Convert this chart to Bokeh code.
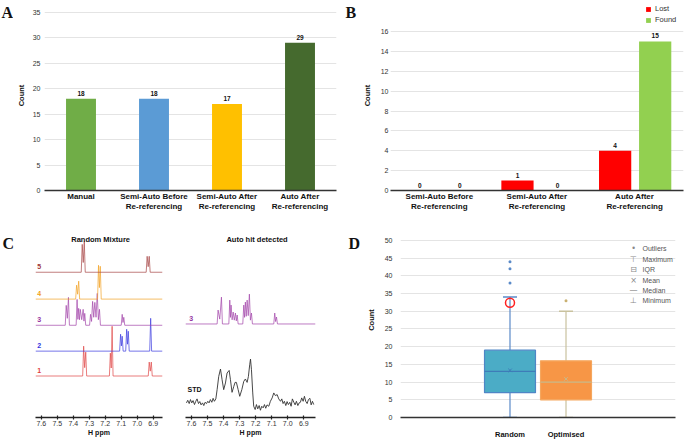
from bokeh.plotting import figure
from bokeh.layouts import row, column
from bokeh.models import (ColumnDataSource, Range1d, FactorRange, Label, Legend, LegendItem,
                          NumeralTickFormatter)
from bokeh.transform import dodge
from bokeh.core.properties import value
from bokeh.embed import file_html
from bokeh.resources import INLINE

SANS = "Liberation Sans"
SERIF = "Liberation Serif"

# ---------------- data ----------------
# Panel A
a_methods = ["Manual", "Semi-Auto Before\nRe-referencing", "Semi-Auto After\nRe-referencing",
             "Auto After\nRe-referencing"]
a_counts = [18, 18, 17, 29]
a_colors = ["#70AD47", "#5B9BD5", "#FFC000", "#456A2E"]
a_ticks = [0, 5, 10, 15, 20, 25, 30, 35]

# Panel B
b_methods = a_methods[1:]
b_lost = [0, 1, 4]
b_found = [0, 0, 15]
b_ticks = [0, 2, 4, 6, 8, 10, 12, 14, 16]

# Panel C  (peak tables: ppm, intensity)
ppm_ticks = [7.6, 7.5, 7.4, 7.3, 7.2, 7.1, 7.0, 6.9]
mix_names = ["1", "2", "3", "4", "5"]
mix_peaks = [
    [(7.335, 30), (7.322, 24), (7.168, 23), (7.157, 50), (6.925, 14), (6.912, 14)],
    [(7.104, 17), (7.094, 15), (7.066, 22), (7.056, 20), (6.916, 33)],
    [(7.444, 20), (7.430, 28), (7.376, 26), (7.366, 17), (7.356, 16), (7.338, 16), (7.328, 12),
     (7.292, 11), (7.279, 24), (7.265, 23), (7.250, 32), (7.236, 16), (7.094, 11), (7.084, 8)],
    [(7.379, 14), (7.366, 18), (7.242, 34), (7.231, 33)],
    [(7.344, 28), (7.331, 31), (6.938, 16), (6.925, 16)],
]
hit_name = "3"
hit_peaks = [(7.434, 14), (7.413, 27), (7.361, 24), (7.353, 19), (7.340, 12), (7.326, 11), (7.315, 9),
             (7.274, 19), (7.264, 22), (7.253, 24), (7.239, 30), (7.226, 11), (7.081, 11), (7.070, 7)]
std_ppm = [7.631, 7.623, 7.614, 7.606, 7.598, 7.590, 7.581, 7.573, 7.565, 7.556, 7.548, 7.540, 7.531,
           7.523, 7.515, 7.506, 7.498, 7.490, 7.482, 7.473, 7.465, 7.457, 7.448, 7.440, 7.430, 7.419,
           7.409, 7.399, 7.388, 7.378, 7.365, 7.357, 7.347, 7.336, 7.328, 7.320, 7.309, 7.299, 7.286,
           7.274, 7.264, 7.253, 7.245, 7.237, 7.232, 7.226, 7.218, 7.212, 7.203, 7.195, 7.187, 7.178,
           7.170, 7.162, 7.153, 7.145, 7.137, 7.129, 7.118, 7.108, 7.097, 7.087, 7.077, 7.066, 7.056,
           7.045, 7.037, 7.029, 7.021, 7.012, 7.004, 6.996, 6.987, 6.979, 6.971, 6.962, 6.954, 6.946,
           6.937, 6.929, 6.921, 6.913, 6.904, 6.896, 6.888, 6.879, 6.871, 6.862, 6.854, 6.846, 6.838]
std_int = [14.7, 17.3, 14.0, 18.0, 14.7, 17.0, 13.0, 16.3, 18.7, 14.0, 16.0, 12.7, 14.7,
           12.0, 15.3, 14.0, 16.3, 14.7, 18.0, 15.3, 19.3, 16.3, 18.7, 28.0, 41.3, 48.7,
           38.0, 28.0, 34.7, 44.7, 47.3, 38.0, 25.3, 31.3, 35.3, 35.3, 28.0, 21.3, 28.0,
           36.3, 38.7, 35.3, 41.3, 53.0, 58.7, 48.0, 24.7, 11.3, 8.0, 13.0, 8.7, 12.0,
           7.3, 11.3, 9.7, 13.0, 9.3, 12.7, 11.3, 16.3, 19.7, 24.7, 22.0, 23.0, 18.7,
           16.3, 18.7, 14.0, 16.3, 12.0, 16.0, 13.0, 15.3, 11.3, 18.7, 15.3, 12.7, 16.3,
           12.0, 14.7, 15.3, 19.7, 16.3, 21.3, 16.3, 14.0, 18.0, 19.3, 12.7, 16.3, 13.0]

# Panel D
d_groups = ["Random", "Optimised"]
d_min = [0, 0]
d_q1 = [7, 5]
d_median = [13, 10]
d_mean = [13.3, 10.9]
d_q3 = [19, 16]
d_max = [34, 30]
d_out_group = ["Random", "Random", "Random", "Optimised"]
d_out_value = [44, 42, 38, 33]
d_flag_group = ["Random"]
d_flag_value = [32.4]
d_ticks = [0, 5, 10, 15, 20, 25, 30, 35, 40, 45, 50]
d_legend_symbols = ["\u2022", "\u22a4", "\u229f", "\u00d7", "\u2014", "\u22a5"]
d_legend_texts = ["Outliers", "Maximum", "IQR", "Mean", "Median", "Minimum"]

# ---------------- styling ----------------
mix_colors = ["#E04A4A", "#4040E0", "#A448AC", "#F2A42A", "#A84A4A"]
mix_label_colors = ["#E03C3C", "#3434E0", "#9434A0", "#F0A020", "#A03838"]
stack_base = [41.7, 66.7, 92.7, 119.0, 146.0]
GRID = "#E4E4E4"
TOP_H, BOT_H = 222, 219
TOP_MB, BOT_MB = 32, 23


def base_fig(w, h, xr, yr, ml, mr, mt, mb, **kw):
    p = figure(width=w, height=h, x_range=xr, y_range=yr, output_backend="svg",
               toolbar_location=None, min_border_left=ml, min_border_right=mr,
               min_border_top=mt, min_border_bottom=mb, **kw)
    p.outline_line_color = None
    p.background_fill_color = "white"
    p.border_fill_color = "white"
    return p


def letter_fig(w, h, mb, txt, x, y):
    f = base_fig(w, h, Range1d(0, w), Range1d(0, h - mb), 0, 0, 0, mb,
                 x_axis_location=None, y_axis_location=None)
    f.grid.visible = False
    f.text(x=[x], y=[y], text=[txt], text_font=value(SERIF), text_font_size="16px",
           text_font_style="bold", text_color="#111111", text_align="left",
           text_baseline="alphabetic")
    return f


def style_bar_axes(p, ticks, ylabel_standoff, tick_standoff):
    p.xgrid.grid_line_color = None
    p.ygrid.grid_line_color = GRID
    p.yaxis.ticker = ticks
    p.yaxis.axis_line_color = None
    p.yaxis.major_tick_line_color = None
    p.yaxis.minor_tick_line_color = None
    p.yaxis.major_tick_out = 0
    p.yaxis.major_tick_in = 0
    p.yaxis.major_label_text_font = SANS
    p.yaxis.major_label_text_font_size = "7px"
    p.yaxis.major_label_text_color = "#333333"
    p.yaxis.major_label_standoff = tick_standoff
    p.yaxis.axis_label = "Count"
    p.yaxis.axis_label_text_font = SANS
    p.yaxis.axis_label_text_font_size = "7.5px"
    p.yaxis.axis_label_text_font_style = "bold"
    p.yaxis.axis_label_text_color = "#111111"
    p.yaxis.axis_label_standoff = ylabel_standoff
    p.xaxis.axis_line_color = "#333333"
    p.xaxis.axis_line_width = 1.5
    p.xaxis.major_tick_line_color = None
    p.xaxis.minor_tick_line_color = None
    p.xaxis.major_tick_out = 0
    p.xaxis.major_tick_in = 0
    p.xaxis.major_label_text_font = SANS
    p.xaxis.major_label_text_font_style = "bold"
    p.xaxis.major_label_text_font_size = "8px"
    p.xaxis.major_label_text_color = "#111111"
    p.xaxis.major_label_standoff = 1


# ---------------- Panel A ----------------
srcA = ColumnDataSource(dict(m=a_methods, c=a_counts, col=a_colors, lbl=[str(v) for v in a_counts]))
pA = base_fig(325, TOP_H, FactorRange(*a_methods), Range1d(0, 37.3), 31, 2, 0, TOP_MB)
pA.vbar(x="m", top="c", width=0.41, fill_color="col", line_color=None, source=srcA)
pA.text(x="m", y="c", text="lbl", source=srcA, text_align="center", text_baseline="bottom",
        y_offset=-3, text_font=value(SANS), text_font_size="6.5px", text_font_style="bold",
        text_color="#111111")
style_bar_axes(pA, a_ticks, 4, 4)

# ---------------- Panel B ----------------
srcB = ColumnDataSource(dict(m=b_methods, lost=b_lost, found=b_found,
                             ll=[str(v) for v in b_lost], fl=[str(v) for v in b_found]))
pB = base_fig(327, TOP_H, FactorRange(*b_methods), Range1d(0, 19.12), 32, 2, 0, TOP_MB)
rl = pB.vbar(x=dodge("m", -0.2, range=pB.x_range), top="lost", width=0.33, fill_color="#FF0000",
             line_color=None, source=srcB)
rf = pB.vbar(x=dodge("m", 0.21, range=pB.x_range), top="found", width=0.33, fill_color="#92D050",
             line_color=None, source=srcB)
for ycol, tcol, off in [("lost", "ll", -0.2), ("found", "fl", 0.21)]:
    pB.text(x=dodge("m", off, range=pB.x_range), y=ycol, text=tcol, source=srcB,
            text_align="center", text_baseline="bottom", y_offset=-3, text_font=value(SANS),
            text_font_size="6.5px", text_font_style="bold", text_color="#111111")
style_bar_axes(pB, b_ticks, 6, 2)
leg = Legend(items=[LegendItem(label="Lost", renderers=[rl]), LegendItem(label="Found", renderers=[rf])],
             location=(255, 166), orientation="vertical", glyph_width=6, glyph_height=6,
             label_height=9, label_width=20, spacing=2, padding=0, margin=0, label_standoff=4,
             label_text_font=SANS, label_text_font_size="7.5px", label_text_color="#333333",
             border_line_color=None, background_fill_alpha=0)
pB.add_layout(leg)

letA = letter_fig(13, TOP_H, TOP_MB, "A", 1, 178)
letB = letter_fig(20, TOP_H, TOP_MB, "B", 7, 178)


# ---------------- Panel C ----------------
def trace_xy(peaks, base, x0, x1, hw=0.006, join=0.022):
    xs, ys = [x0], [base]
    prev = None
    for ppm, h in sorted(peaks, key=lambda t: -t[0]):
        if prev is not None and prev[0] - ppm < join:
            xs.append((prev[0] + ppm) / 2)
            ys.append(base + 0.35 * min(prev[1], h))
        else:
            if prev is not None:
                xs.append(prev[0] - hw)
                ys.append(base)
            xs.append(ppm + hw)
            ys.append(base)
        xs.append(ppm)
        ys.append(base + h)
        prev = (ppm, h)
    xs.append(prev[0] - hw)
    ys.append(base)
    xs.append(x1)
    ys.append(base)
    return xs, ys


def style_ppm_axis(p):
    p.grid.visible = False
    p.xaxis.ticker = ppm_ticks
    p.xaxis.formatter = NumeralTickFormatter(format="0.0")
    p.xaxis.axis_line_color = "#222222"
    p.xaxis.axis_line_width = 1.5
    p.xaxis.major_tick_line_color = "#222222"
    p.xaxis.major_tick_line_width = 1.2
    p.xaxis.major_tick_in = 2
    p.xaxis.major_tick_out = 2
    p.xaxis.minor_tick_line_color = None
    p.xaxis.major_label_text_font = SANS
    p.xaxis.major_label_text_font_size = "7px"
    p.xaxis.major_label_text_color = "#333333"
    p.xaxis.major_label_standoff = 1
    p.xaxis.axis_label = "H ppm"
    p.xaxis.axis_label_text_font = SANS
    p.xaxis.axis_label_text_font_size = "7px"
    p.xaxis.axis_label_text_font_style = "bold"
    p.xaxis.axis_label_text_color = "#111111"
    p.xaxis.axis_label_standoff = 0


def title_label(p, x, txt):
    p.add_layout(Label(x=x, y=179, text=txt, text_font=SANS, text_font_size="7.5px",
                       text_font_style="bold", text_color="#111111", text_align="center",
                       text_baseline="middle"))


xl0, xl1 = 7.636, 6.842
pC1 = base_fig(152, BOT_H, Range1d(xl0, xl1), Range1d(0, 196), 15, 10, 0, BOT_MB, y_axis_location=None)
for name, peaks, base, col, lcol in zip(mix_names, mix_peaks, stack_base, mix_colors, mix_label_colors):
    xs, ys = trace_xy(peaks, base, xl0, xl1)
    pC1.line(xs, ys, line_color=col, line_width=0.9, line_alpha=0.8)
    pC1.add_layout(Label(x=7.613, y=base + 6, text=name, text_font=SANS, text_font_size="7px",
                         text_font_style="bold", text_color=lcol, text_align="center",
                         text_baseline="middle"))
style_ppm_axis(pC1)
title_label(pC1, 7.229, "Random Mixture")

xr0, xr1 = 7.637, 6.827
pC2 = base_fig(158, BOT_H, Range1d(xr0, xr1), Range1d(0, 196), 13, 15, 0, BOT_MB, y_axis_location=None)
xs, ys = trace_xy(hit_peaks, stack_base[2] + 1.3, xr0, xr1)
pC2.line(xs, ys, line_color=mix_colors[2], line_width=0.9, line_alpha=0.8)
pC2.line(std_ppm, std_int, line_color="#333333", line_width=0.9)
pC2.add_layout(Label(x=7.602, y=stack_base[2] + 7, text=hit_name, text_font=SANS, text_font_size="7px",
                     text_font_style="bold", text_color=mix_label_colors[2], text_align="center",
                     text_baseline="middle"))
pC2.add_layout(Label(x=7.581, y=28, text="STD", text_font=SANS, text_font_size="7px",
                     text_font_style="bold", text_color="#111111", text_align="center",
                     text_baseline="middle"))
title_label(pC2, 7.191, "Auto hit detected")
style_ppm_axis(pC2)

# ---------------- Panel D ----------------
srcD = ColumnDataSource(dict(g=d_groups, mn=d_min, q1=d_q1, med=d_median, mean=d_mean, q3=d_q3, mx=d_max,
                             fill=["#4BACC6", "#F79646"], edge=["#4F86C6", "#F5A75E"],
                             wcol=["#5A8AC8", "#C9C29E"], mcol=["#3E7CB8", "#C8B98A"]))
pD = base_fig(322, BOT_H, FactorRange(*d_groups, range_padding=1.455), Range1d(0, 55.06), 37, 10, 0, BOT_MB)
pD.segment(x0="g", y0="q3", x1="g", y1="mx", line_color="wcol", line_width=1.2, source=srcD)
pD.segment(x0="g", y0="q1", x1="g", y1="mn", line_color="wcol", line_width=1.2, source=srcD)
pD.scatter(x="g", y="mx", marker="dash", size=14, line_color="wcol", line_width=1.5, source=srcD)
pD.scatter(x="g", y="mn", marker="dash", size=14, line_color="wcol", line_width=1.5, source=srcD)
pD.vbar(x="g", bottom="q1", top="q3", width=0.91, fill_color="fill", line_color="edge",
        line_width=1.2, source=srcD)
pD.segment(x0=dodge("g", -0.455, range=pD.x_range), y0="med", x1=dodge("g", 0.455, range=pD.x_range),
           y1="med", line_color="mcol", line_width=1.3, source=srcD)
pD.scatter(x="g", y="mean", marker="x", size=5, line_color="mcol", line_width=1, source=srcD)
pD.scatter(x=d_out_group, y=d_out_value, marker="circle", size=3,
           fill_color=["#5A8AC8", "#5A8AC8", "#5A8AC8", "#C9B070"], line_color=None)
pD.scatter(x=d_flag_group, y=d_flag_value, marker="circle", size=9, fill_color=None,
           line_color="#FF2020", line_width=1.5)
style_bar_axes(pD, d_ticks, 6, 8)
pD.xaxis.major_label_standoff = 12
pD.xaxis.major_label_text_font_size = "7.5px"
for i, (sym, txt) in enumerate(zip(d_legend_symbols, d_legend_texts)):
    yy = 168.7 - i * 10.4
    pD.add_layout(Label(x=233, y=yy, x_units="screen", y_units="screen", text=sym,
                        text_font="DejaVu Sans", text_font_size="8px", text_color="#888888",
                        text_align="center", text_baseline="middle"))
    pD.add_layout(Label(x=242, y=yy, x_units="screen", y_units="screen", text=txt,
                        text_font=SANS, text_font_size="7px", text_color="#555555",
                        text_align="left", text_baseline="middle"))

letC = letter_fig(20, BOT_H, BOT_MB, "C", 2, 175)
letD = letter_fig(33, BOT_H, BOT_MB, "D", 18, 175)

layout = column(row(letA, pA, letB, pB), row(letC, pC1, pC2, letD, pD))
open("out.html", "w").write(file_html(layout, INLINE))
